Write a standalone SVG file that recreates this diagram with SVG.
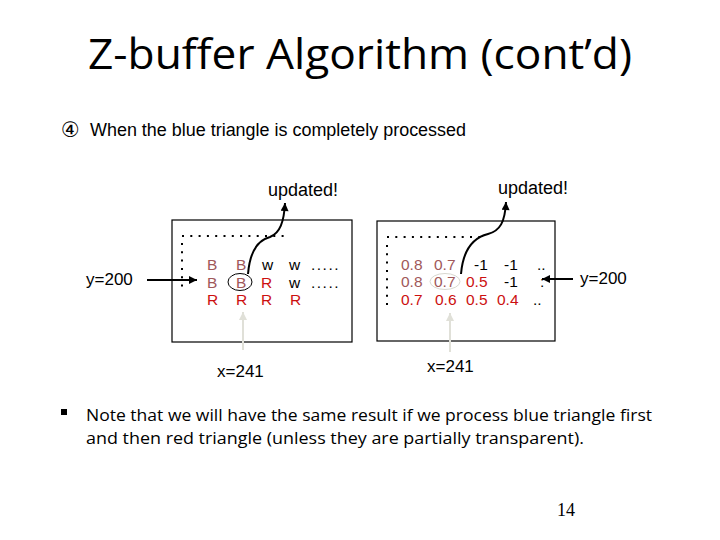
<svg xmlns="http://www.w3.org/2000/svg" width="720" height="540" viewBox="0 0 720 540">
<style>
.t{font-family:"Liberation Sans",Arial,sans-serif;fill:#000}
.lbl{font-size:17px}
.g{font-family:"Liberation Sans",Arial,sans-serif;font-size:15.5px}
.br{fill:#A0585A}
.rd{fill:#CC1010}
.bk{fill:#000}
.box{fill:#fff;stroke:#000;stroke-width:1.2}
.dot{stroke:#000;stroke-width:2;stroke-dasharray:2 6.3;fill:none}
.con{stroke:#000;stroke-width:2;fill:none}
.gray{stroke:#E0E0D8;stroke-width:2;fill:none}
</style>
<defs>
<marker id="ah" viewBox="0 0 10 10" refX="10" refY="5" markerWidth="9" markerHeight="8" markerUnits="userSpaceOnUse" orient="auto">
<path d="M0,0 L10,5 L0,10 z" fill="#000"/>
</marker>
<marker id="ahg" viewBox="0 0 10 10" refX="10" refY="5" markerWidth="9" markerHeight="8" markerUnits="userSpaceOnUse" orient="auto">
<path d="M0,0 L10,5 L0,10 z" fill="#E0E0D8"/>
</marker>
</defs>
<rect width="720" height="540" fill="#fff"/>
<g id="title">
<text x="88" y="69" font-family="'Open Sans','Noto Sans',sans-serif" font-size="42" textLength="544" lengthAdjust="spacingAndGlyphs">Z-buffer Algorithm (cont’d)</text>
</g>
<g id="subtitle">
<text x="61" y="137" font-family="'DejaVu Sans',sans-serif" font-size="21">④</text>
<text x="90" y="136" class="t" font-size="18" textLength="376" lengthAdjust="spacingAndGlyphs">When the blue triangle is completely processed</text>
</g>
<g id="frame-buffer">
<rect class="box" x="172" y="220" width="180" height="122"/>
<line class="dot" x1="182" y1="236" x2="288" y2="236"/>
<line class="dot" x1="182" y1="243" x2="182" y2="292"/>
<text class="g"><tspan class="br" x="207" y="270">B</tspan><tspan class="br" x="236" y="270">B</tspan><tspan class="bk" x="262" y="270">w</tspan><tspan class="bk" x="289" y="270">w</tspan><tspan class="bk" x="311" y="270" letter-spacing="1.5">.....</tspan></text>
<text class="g"><tspan class="br" x="207" y="287.5">B</tspan><tspan class="br" x="236" y="287.5">B</tspan><tspan class="rd" x="261" y="287.5">R</tspan><tspan class="bk" x="289" y="287.5">w</tspan><tspan class="bk" x="311" y="287.5" letter-spacing="1.5">.....</tspan></text>
<text class="g"><tspan class="rd" x="207" y="305">R</tspan><tspan class="rd" x="236" y="305">R</tspan><tspan class="rd" x="261" y="305">R</tspan><tspan class="rd" x="290" y="305">R</tspan></text>
<ellipse cx="240" cy="282" rx="12" ry="8.5" fill="none" stroke="#000" stroke-width="1"/>
</g>
<g id="z-buffer">
<rect class="box" x="377" y="221" width="178" height="120"/>
<line class="dot" x1="387" y1="237" x2="484" y2="237"/>
<line class="dot" x1="387" y1="245" x2="387" y2="310"/>
<text class="g"><tspan class="br" x="401" y="269.5">0.8</tspan><tspan class="br" x="434" y="269.5">0.7</tspan><tspan class="bk" x="474" y="269.5">-1</tspan><tspan class="bk" x="504" y="269.5">-1</tspan><tspan class="bk" x="537" y="269.5">..</tspan></text>
<text class="g"><tspan class="br" x="401" y="287">0.8</tspan><tspan class="br" x="434" y="287">0.7</tspan><tspan class="rd" x="466" y="287">0.5</tspan><tspan class="bk" x="504" y="287">-1</tspan><tspan class="bk" x="540" y="287">:</tspan></text>
<text class="g"><tspan class="rd" x="401" y="304.5">0.7</tspan><tspan class="rd" x="435" y="304.5">0.6</tspan><tspan class="rd" x="466" y="304.5">0.5</tspan><tspan class="rd" x="497" y="304.5">0.4</tspan><tspan class="bk" x="533" y="304.5">..</tspan></text>
<ellipse cx="445" cy="281.5" rx="15" ry="8" fill="none" stroke="#D8D8D0" stroke-width="1"/>
</g>
<g id="labels">
<text class="t" x="268" y="196" font-size="18">updated!</text>
<text class="t" x="498" y="194" font-size="18">updated!</text>
<text class="t lbl" x="86" y="285">y=200</text>
<text class="t lbl" x="580" y="284">y=200</text>
<text class="t lbl" x="217" y="377">x=241</text>
<text class="t lbl" x="427" y="372">x=241</text>
</g>
<g id="connectors">
<line class="con" x1="147" y1="280" x2="197" y2="280" marker-end="url(#ah)"/>
<line class="con" x1="573" y1="279" x2="542" y2="279" marker-end="url(#ah)"/>
<path class="con" d="M248,274 C250,250 258,240 270,237 C280,233 284,222 285,203" marker-end="url(#ah)"/>
<path class="con" d="M461,274 C463,250 472,238 488,234 C500,231 505,222 506,202" marker-end="url(#ah)"/>
<line class="gray" x1="243" y1="350" x2="243" y2="312" marker-end="url(#ahg)"/>
<line class="gray" x1="450" y1="352" x2="450" y2="313" marker-end="url(#ahg)"/>
</g>
<g id="note">
<rect x="61" y="409" width="6" height="6" fill="#000"/>
<text x="86" y="421" font-family="'Open Sans','Noto Sans',sans-serif" font-size="17" textLength="566" lengthAdjust="spacingAndGlyphs">Note that we will have the same result if we process blue triangle first</text>
<text x="86" y="444" font-family="'Open Sans','Noto Sans',sans-serif" font-size="17" textLength="498" lengthAdjust="spacingAndGlyphs">and then red triangle (unless they are partially transparent).</text>
</g>
<g id="page">
<text x="557" y="516" font-family="'Liberation Serif','Times New Roman',serif" font-size="18">14</text>
</g>
</svg>
